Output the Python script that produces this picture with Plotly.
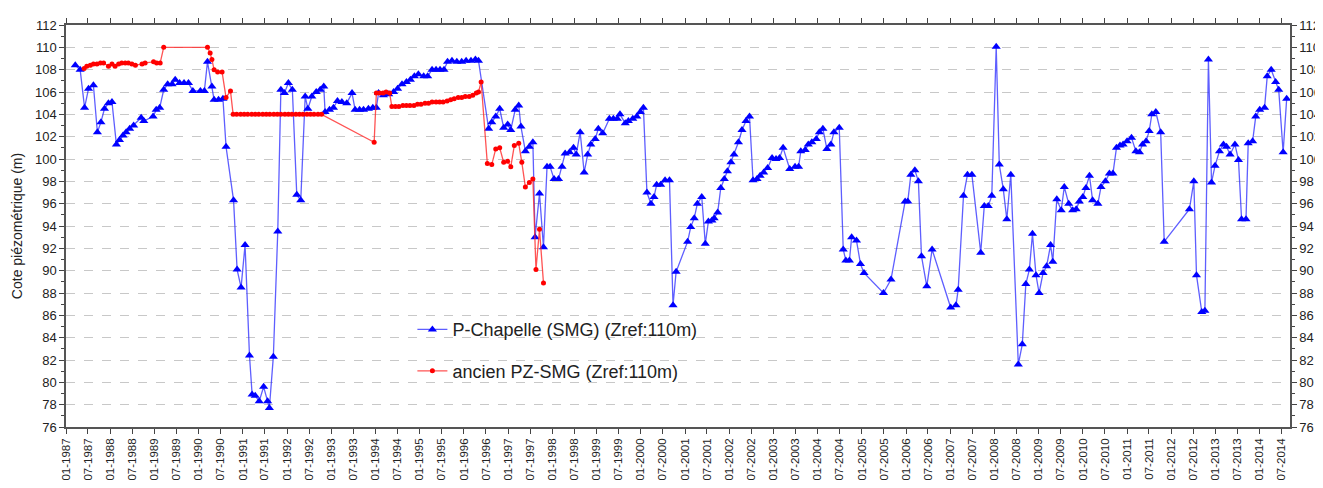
import numpy as np
import pandas as pd
import plotly.graph_objects as go

# ---------------- DATA (decimal years, metres) ----------------
chapelle_years = [
    1987.21, 1987.32, 1987.42, 1987.51, 1987.62, 1987.71, 1987.79, 1987.87, 1987.96, 1988.04,
    1988.14, 1988.21, 1988.29, 1988.36, 1988.44, 1988.53, 1988.70, 1988.76, 1988.97, 1989.04,
    1989.12, 1989.21, 1989.30, 1989.40, 1989.47, 1989.57, 1989.67, 1989.77, 1989.87, 1990.04,
    1990.13, 1990.20, 1990.30, 1990.35, 1990.45, 1990.55, 1990.62, 1990.79, 1990.87, 1990.96,
    1991.05, 1991.15, 1991.21, 1991.28, 1991.37, 1991.47, 1991.56, 1991.60, 1991.69, 1991.79,
    1991.86, 1991.94, 1992.03, 1992.12, 1992.22, 1992.31, 1992.41, 1992.47, 1992.56, 1992.66,
    1992.75, 1992.83, 1992.86, 1992.96, 1993.05, 1993.14, 1993.24, 1993.35, 1993.47, 1993.54,
    1993.64, 1993.73, 1993.84, 1993.94, 1994.02, 1994.07, 1994.18, 1994.30, 1994.41, 1994.50,
    1994.60, 1994.70, 1994.79, 1994.88, 1994.97, 1995.09, 1995.18, 1995.28, 1995.37, 1995.46,
    1995.55, 1995.63, 1995.73, 1995.84, 1995.95, 1996.05, 1996.16, 1996.26, 1996.33, 1996.56,
    1996.63, 1996.72, 1996.81, 1996.90, 1996.99, 1997.06, 1997.16, 1997.24, 1997.29, 1997.39,
    1997.48, 1997.56, 1997.61, 1997.71, 1997.80, 1997.88, 1997.95, 1998.04, 1998.14, 1998.22,
    1998.29, 1998.39, 1998.48, 1998.54, 1998.63, 1998.72, 1998.80, 1998.87, 1998.97, 1999.04,
    1999.14, 1999.29, 1999.38, 1999.47, 1999.53, 1999.65, 1999.72, 1999.82, 1999.91, 1999.99,
    2000.06, 2000.14, 2000.23, 2000.30, 2000.36, 2000.45, 2000.55, 2000.65, 2000.73, 2000.80,
    2001.06, 2001.13, 2001.21, 2001.28, 2001.38, 2001.46, 2001.53, 2001.61, 2001.66, 2001.74,
    2001.81, 2001.89, 2001.96, 2002.04, 2002.11, 2002.21, 2002.29, 2002.38, 2002.46, 2002.54,
    2002.63, 2002.70, 2002.78, 2002.87, 2002.97, 2003.06, 2003.14, 2003.22, 2003.37, 2003.49,
    2003.57, 2003.62, 2003.72, 2003.79, 2003.87, 2003.97, 2004.04, 2004.12, 2004.21, 2004.30,
    2004.37, 2004.49, 2004.58, 2004.64, 2004.72, 2004.77, 2004.88, 2004.97, 2005.05, 2005.49,
    2005.66, 2005.98, 2006.04, 2006.11, 2006.20, 2006.28, 2006.35, 2006.47, 2006.59, 2007.01,
    2007.13, 2007.18, 2007.30, 2007.39, 2007.49, 2007.69, 2007.77, 2007.86, 2007.94, 2008.04,
    2008.11, 2008.20, 2008.28, 2008.37, 2008.54, 2008.63, 2008.71, 2008.79, 2008.86, 2008.94,
    2009.01, 2009.10, 2009.18, 2009.27, 2009.32, 2009.41, 2009.51, 2009.58, 2009.68, 2009.77,
    2009.85, 2009.92, 2010.00, 2010.07, 2010.15, 2010.22, 2010.34, 2010.41, 2010.51, 2010.60,
    2010.68, 2010.76, 2010.84, 2010.91, 2011.00, 2011.10, 2011.20, 2011.28, 2011.35, 2011.43,
    2011.50, 2011.56, 2011.65, 2011.76, 2011.84, 2012.41, 2012.51, 2012.57, 2012.69, 2012.76,
    2012.84, 2012.91, 2012.99, 2013.09, 2013.18, 2013.25, 2013.33, 2013.44, 2013.52, 2013.59,
    2013.69, 2013.74, 2013.84, 2013.91, 2014.00, 2014.11, 2014.17, 2014.26, 2014.36, 2014.43,
    2014.53, 2014.61,
]
chapelle_values = [
    108.4, 108.0, 104.6, 106.3, 106.6, 102.4, 103.3, 104.5, 105.0, 105.1,
    101.3, 101.7, 102.1, 102.4, 102.7, 103.0, 103.7, 103.4, 103.8, 104.4,
    104.6, 106.2, 106.7, 106.7, 107.1, 106.8, 106.8, 106.8, 106.1, 106.1,
    106.1, 108.7, 106.5, 105.3, 105.3, 105.4, 101.1, 96.3, 90.1, 88.5,
    92.3, 82.4, 78.9, 78.8, 78.3, 79.6, 78.3, 77.7, 82.3, 93.5,
    106.2, 105.9, 106.8, 106.2, 96.8, 96.3, 105.6, 104.5, 105.6, 106.0,
    106.2, 106.5, 104.2, 104.4, 104.6, 105.2, 105.1, 105.0, 105.9, 104.4,
    104.4, 104.4, 104.5, 104.6, 104.6, 105.9, 105.7, 105.8, 106.0, 106.3,
    106.7, 106.9, 107.1, 107.4, 107.6, 107.4, 107.4, 108.0, 108.0, 108.0,
    108.0, 108.7, 108.8, 108.7, 108.7, 108.8, 108.8, 108.9, 108.8, 102.7,
    103.3, 103.8, 104.5, 102.8, 103.1, 102.6, 104.4, 104.8, 102.9, 100.7,
    101.1, 101.5, 93.0, 96.9, 92.1, 99.3, 99.3, 98.2, 98.2, 99.3,
    100.5, 100.6, 101.0, 100.4, 102.4, 98.8, 100.4, 101.3, 101.8, 102.7,
    102.3, 103.6, 103.6, 103.6, 104.0, 103.2, 103.4, 103.6, 103.8, 104.2,
    104.6, 97.0, 96.0, 96.6, 97.7, 97.7, 98.1, 98.1, 86.9, 89.9,
    92.6, 93.9, 94.7, 96.0, 96.6, 92.4, 94.4, 94.5, 94.7, 95.2,
    97.4, 98.2, 98.9, 99.7, 100.4, 101.5, 102.6, 103.4, 103.8, 98.1,
    98.2, 98.5, 98.8, 99.2, 100.1, 100.0, 100.1, 101.0, 99.1, 99.3,
    99.3, 100.7, 100.8, 101.3, 101.5, 101.8, 102.4, 102.7, 100.9, 101.3,
    102.4, 102.8, 91.9, 90.9, 90.9, 93.0, 92.7, 90.6, 89.8, 88.0,
    89.2, 96.2, 96.2, 98.6, 99.0, 98.0, 91.3, 88.6, 91.9, 86.7,
    86.9, 88.3, 96.7, 98.6, 98.6, 91.6, 95.8, 95.8, 96.7, 110.05,
    99.5, 97.3, 94.6, 98.6, 81.6, 83.4, 88.8, 90.1, 93.3, 89.6,
    88.0, 89.8, 90.4, 92.3, 90.8, 96.4, 95.4, 97.5, 96.0, 95.4,
    95.5, 96.2, 96.6, 97.4, 98.5, 96.3, 96.0, 97.5, 98.0, 98.7,
    98.7, 101.0, 101.2, 101.3, 101.6, 101.9, 100.7, 100.6, 101.3, 101.6,
    102.5, 104.0, 104.2, 102.4, 92.6, 95.5, 98.0, 89.6, 86.3, 86.4,
    108.9, 97.9, 99.4, 100.7, 101.3, 101.1, 100.4, 101.3, 99.9, 94.6,
    94.6, 101.4, 101.6, 103.8, 104.4, 104.6, 107.4, 108.0, 106.9, 106.2,
    100.6, 105.4,
]

ancien_years = [
    1987.41, 1987.47, 1987.55, 1987.62, 1987.70, 1987.78, 1987.85, 1987.96, 1988.04, 1988.11,
    1988.19, 1988.26, 1988.34, 1988.41, 1988.49, 1988.57, 1988.72, 1988.79, 1988.98, 1989.05,
    1989.13, 1989.21, 1990.20, 1990.26, 1990.30, 1990.35, 1990.43, 1990.53, 1990.62, 1990.72,
    1990.78, 1990.86, 1990.95, 1991.03, 1991.11, 1991.20, 1991.28, 1991.36, 1991.45, 1991.53,
    1991.61, 1991.70, 1991.78, 1991.86, 1991.95, 1992.03, 1992.11, 1992.20, 1992.28, 1992.36,
    1992.45, 1992.53, 1992.61, 1992.70, 1992.78, 1993.97, 1994.02, 1994.09, 1994.17, 1994.24,
    1994.32, 1994.37, 1994.45, 1994.53, 1994.62, 1994.70, 1994.78, 1994.87, 1994.95, 1995.03,
    1995.12, 1995.20, 1995.28, 1995.37, 1995.45, 1995.53, 1995.62, 1995.70, 1995.78, 1995.87,
    1995.95, 1996.03, 1996.12, 1996.20, 1996.28, 1996.33, 1996.39, 1996.53, 1996.63, 1996.72,
    1996.81, 1996.90, 1996.99, 1997.06, 1997.14, 1997.24, 1997.31, 1997.39, 1997.48, 1997.56,
    1997.63, 1997.71, 1997.80,
]
ancien_values = [
    108.1, 108.3, 108.4, 108.5, 108.5, 108.6, 108.6, 108.3, 108.5, 108.3,
    108.5, 108.6, 108.6, 108.6, 108.5, 108.4, 108.5, 108.6, 108.7, 108.6,
    108.6, 110.0, 110.0, 109.5, 108.9, 108.0, 107.8, 107.8, 105.5, 106.1,
    104.0, 104.0, 104.0, 104.0, 104.0, 104.0, 104.0, 104.0, 104.0, 104.0,
    104.0, 104.0, 104.0, 104.0, 104.0, 104.0, 104.0, 104.0, 104.0, 104.0,
    104.0, 104.0, 104.0, 104.0, 104.0, 101.5, 105.9, 105.9, 105.9, 106.0,
    105.9, 104.7, 104.7, 104.7, 104.8, 104.8, 104.8, 104.8, 104.9, 104.9,
    105.0, 105.0, 105.1, 105.1, 105.1, 105.1, 105.2, 105.3, 105.4, 105.5,
    105.5, 105.6, 105.6, 105.7, 105.9, 106.0, 106.9, 99.6, 99.5, 100.9,
    101.0, 99.7, 99.8, 99.3, 101.2, 101.4, 99.7, 97.5, 97.9, 98.2,
    90.1, 93.7, 88.9,
]

series_names = ["P-Chapelle (SMG) (Zref:110m)", "ancien PZ-SMG (Zref:110m)"]
y_title = "Cote piézométrique (m)"
y_ticks = list(range(76, 113, 2))
x_range = ["1987-01-01", "2014-09-08"]


def to_dates(years):
    base = pd.Timestamp("1987-01-01")
    return [base + pd.Timedelta(days=(y - 1987.0) * 365.25) for y in years]


FONT = "Liberation Sans, Arial, sans-serif"

fig = go.Figure()
fig.add_trace(go.Scatter(
    x=to_dates(chapelle_years), y=chapelle_values, name=series_names[0],
    mode="lines+markers", legendgroup="a",
    line=dict(color="rgba(40,40,255,0.75)", width=1.3),
    marker=dict(symbol="triangle-up", size=8, color="#0000ff"),
))
fig.add_trace(go.Scatter(
    x=to_dates(ancien_years), y=ancien_values, name=series_names[1],
    mode="lines+markers", legendgroup="b",
    line=dict(color="rgba(255,40,40,0.8)", width=1.3),
    marker=dict(symbol="circle", size=5, color="#ff0000"),
))
# empty trace so that the mirrored right-hand axis is drawn
fig.add_trace(go.Scatter(x=[], y=[], yaxis="y2", showlegend=False, hoverinfo="skip"))

axis_font = dict(family=FONT, size=13, color="#222")
yax = dict(
    range=[76, 112], tickvals=y_ticks, ticks="outside", ticklen=5, tickcolor="#444",
    showline=True, linecolor="#555", linewidth=1.5, zeroline=False,
    tickfont=axis_font, automargin=False,
    minor=dict(dtick=1, ticks="outside", ticklen=3, tickcolor="#444", showgrid=False),
)
# the page body has an 8px margin, so the figure is sized to fit inside the window
fig.update_layout(
    width=1315, height=480,
    margin=dict(l=58, r=33, t=17, b=61),
    paper_bgcolor="white", plot_bgcolor="white",
    font=dict(family=FONT, color="#222"),
    xaxis=dict(
        type="date", range=x_range, tick0="1987-01-01", dtick="M6",
        tickformat="%m-%Y", tickangle=-90, ticks="outside", ticklen=5, tickcolor="#444",
        showgrid=False, showline=True, linecolor="#555", linewidth=1.5, mirror="ticks",
        tickfont=dict(family=FONT, size=11.5, color="#222"), automargin=False,
    ),
    yaxis=dict(**yax, showgrid=True, gridcolor="#c8c8c8", griddash="dash", gridwidth=1,
               title=dict(text=y_title, font=dict(family=FONT, size=14, color="#222"), standoff=9)),
    yaxis2=dict(**yax, showgrid=False, overlaying="y", side="right", anchor="x"),
    legend=dict(
        x=0.283, y=0.288, xanchor="left", yanchor="top",
        bgcolor="rgba(0,0,0,0)", tracegroupgap=15,
        font=dict(family=FONT, size=18, color="#222"),
    ),
    showlegend=True,
)

fig.write_html("out.html")
